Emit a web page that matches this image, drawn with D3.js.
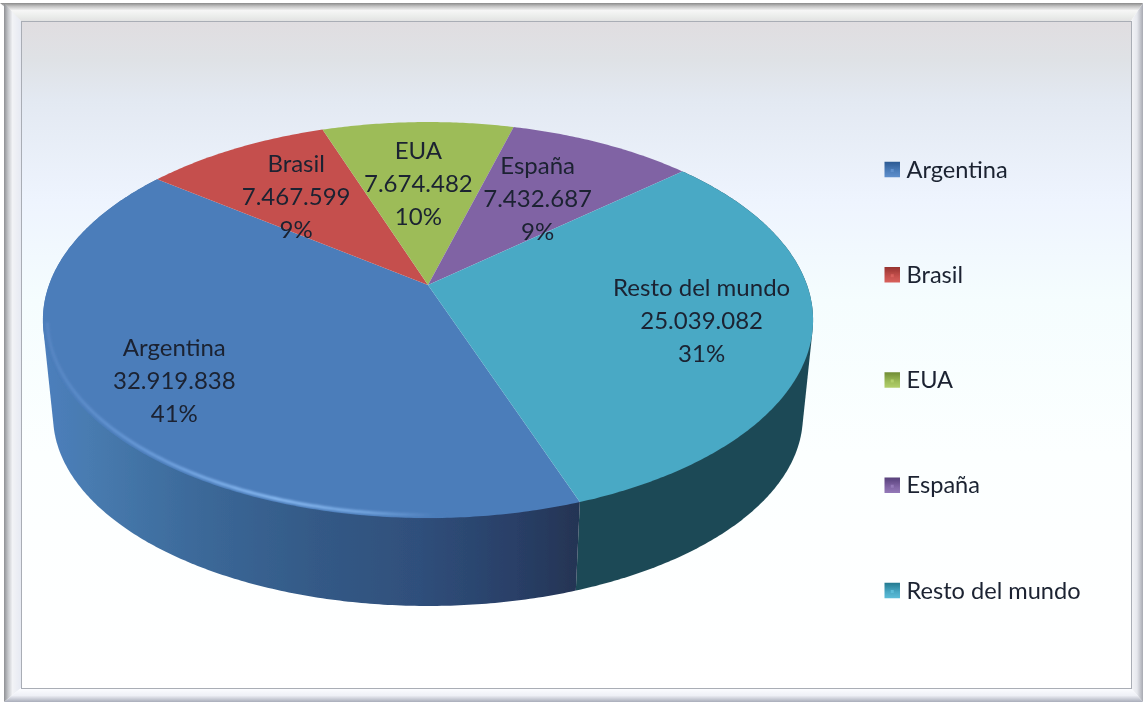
<!DOCTYPE html>
<html>
<head>
<meta charset="utf-8">
<script src="https://cdn.jsdelivr.net/npm/d3@7"></script>
<style>
  html, body { margin: 0; padding: 0; background: #fff; }
  svg { display: block; }
  text { font-family: Lato, "Open Sans", sans-serif; fill: #1a2230; }
</style>
</head>
<body>
<div id="chart"></div>
<script>
var categories = ["Argentina", "Brasil", "EUA", "España", "Resto del mundo"];
var values = [32919838, 7467599, 7674482, 7432687, 25039082];
var valueLabels = ["32.919.838", "7.467.599", "7.674.482", "7.432.687", "25.039.082"];
var percentLabels = ["41%", "9%", "10%", "9%", "31%"];
var colors = ["#4c7dba", "#c5504d", "#9dbc59", "#8064a4", "#4aa9c5"];
var keyDark = ["#2c5a93", "#963330", "#6f8c35", "#57407a", "#22798f"];
var keyLight = ["#5f8fcc", "#d8605c", "#b2cf6c", "#9479b8", "#5dbdd8"];

var width = 1143, height = 702;

var svg = d3.select("#chart").append("svg")
    .attr("width", width)
    .attr("height", height);
var defs = svg.append("defs");

function linearGrad(id, x1, y1, x2, y2, stops) {
  var g = defs.append("linearGradient")
      .attr("id", id)
      .attr("gradientUnits", "userSpaceOnUse")
      .attr("x1", x1).attr("y1", y1).attr("x2", x2).attr("y2", y2);
  stops.forEach(function (s) {
    g.append("stop").attr("offset", s[0]).attr("stop-color", s[1]);
  });
}

linearGrad("panelFill", 0, 21, 0, 688, [
  [0, "#e0dde0"], [0.06, "#dfe2e6"], [0.12, "#e3e9f2"], [0.27, "#eef4fe"],
  [0.42, "#f5fdfe"], [0.65, "#fcffff"], [1, "#ffffff"]]);
linearGrad("frameTop", 0, 3, 0, 21, [
  [0, "#8a8a8a"], [0.18, "#c2c2c2"], [0.42, "#f6f6f6"], [0.7, "#eceeec"], [1, "#e2e2e2"]]);
linearGrad("frameLeft", 4, 0, 21, 0, [
  [0, "#8f9094"], [0.25, "#c6c8cc"], [0.5, "#f2f3f6"], [1, "#e6e9f2"]]);
linearGrad("frameRight", 1132, 0, 1143, 0, [
  [0, "#f2f3f6"], [0.45, "#e6e8ee"], [1, "#a8aab2"]]);
linearGrad("frameBottom", 0, 689, 0, 702, [
  [0, "#fbfcff"], [0.5, "#eef0f6"], [1, "#a9adba"]]);
linearGrad("sideBlue", 43, 0, 580, 0, [
  [0, "#4d7fbd"], [0.1, "#477aae"], [0.3, "#3b6898"], [0.5, "#345a87"],
  [0.7, "#2f4f7b"], [0.88, "#293f67"], [1, "#243453"]]);
linearGrad("rimBlue", 45, 0, 560, 0, [
  [0, "#5585c2"], [0.2, "#6a9cda"], [0.45, "#8abcf4"], [0.62, "#76a8e2"], [0.76, "#4c7dba"], [1, "#4c7dba"]]);

defs.append("filter").attr("id", "soft").append("feGaussianBlur").attr("stdDeviation", 1.2);
defs.append("filter").attr("id", "jpeg").append("feGaussianBlur").attr("stdDeviation", 0.35);

// frame and panel
svg.append("path").attr("d", "M0,3H1143L1131,21H21Z").attr("fill", "url(#frameTop)");
svg.append("path").attr("d", "M4,3L21,21V688L4,702Z").attr("fill", "url(#frameLeft)");
svg.append("path").attr("d", "M1143,3L1131,21V688L1143,702Z").attr("fill", "url(#frameRight)");
svg.append("path").attr("d", "M4,702L21,688H1131L1143,702Z").attr("fill", "url(#frameBottom)");
svg.append("rect")
    .attr("x", 21.5).attr("y", 21.5).attr("width", 1110).attr("height", 667)
    .attr("fill", "url(#panelFill)")
    .attr("stroke", "#a9adb5");

var chart = svg.append("g").attr("filter", "url(#jpeg)");

// tilted disc: perspective projection of a unit circle
var tilt = -0.177;
var topFace = { cx: 428, cy: 285, a: 379, b: 191.8 };
var lowFace = { cx: 428, cy: 382.4, a: 369, b: 184 };

function project(face, angle, r) {
  var u = r * Math.sin(angle), v = -r * Math.cos(angle);
  var w = 1 + tilt * v;
  return [face.cx + face.a * u / w, face.cy + face.b * v / w];
}

function arcPoints(face, a0, a1, r) {
  var n = Math.ceil(Math.abs(a1 - a0) / 0.01);
  return d3.range(n + 1).map(function (i) {
    return project(face, a0 + (a1 - a0) * i / n, r);
  });
}

var line = d3.line();
var startAngle = 160.5 * Math.PI / 180;

var pie = d3.pie().sort(null)
    .startAngle(startAngle)
    .endAngle(startAngle + 2 * Math.PI);
var slices = pie(values);

// side wall, only the two slices that face the viewer
var sideFill = { 0: "url(#sideBlue)", 4: "#1f4a56" };
[4, 0].forEach(function (i) {
  var d = slices[i];
  var upper = arcPoints(topFace, d.startAngle, d.endAngle, 1);
  var lower = arcPoints(lowFace, d.startAngle, d.endAngle, 1);
  chart.append("path")
      .attr("d", line(d3.polygonHull(upper.concat(lower))) + "Z")
      .attr("fill", sideFill[i]);
});

// top face
chart.selectAll(".slice")
  .data(slices)
  .enter().append("path")
    .attr("class", "slice")
    .attr("fill", function (d, i) { return colors[i]; })
    .attr("d", function (d) {
      var pts = [project(topFace, 0, 0)].concat(arcPoints(topFace, d.startAngle, d.endAngle, 1));
      return line(pts) + "Z";
    });

// bevel highlight on the front of the blue slice
var blue = slices[0];
chart.append("path")
    .attr("d", line(arcPoints(topFace, blue.startAngle + 0.3, blue.startAngle + 1.72, 0.989)))
    .attr("fill", "none")
    .attr("stroke", "url(#rimBlue)")
    .attr("stroke-width", 3)
    .attr("filter", "url(#soft)");

// data labels
var labelRadius = [0.765, 0.632, 0.594, 0.59, 0.721];
var labelNudge = [-0.5, -1.2, -0.9, 0.3, -0.6];   // degrees
var lineGap = 33;

var labels = chart.selectAll(".label")
    .data(slices)
    .enter().append("g")
    .attr("class", "label")
    .attr("transform", function (d, i) {
      var mid = (d.startAngle + d.endAngle) / 2 + labelNudge[i] * Math.PI / 180;
      var p = project(topFace, mid, labelRadius[i]);
      return "translate(" + p[0] + "," + p[1] + ")";
    });

labels.selectAll("text")
    .data(function (d, i) { return [categories[i], valueLabels[i], percentLabels[i]]; })
    .enter().append("text")
    .attr("text-anchor", "middle")
    .attr("y", function (d, i) { return (i - 1) * lineGap + 9.5; })
    .style("font-size", "24px")
    .text(function (d) { return d; });

// legend
var legendY = d3.scalePoint().domain(categories).range([169.5, 590.5]);
var keySize = 15.5;

var legend = chart.selectAll(".legend")
    .data(categories)
    .enter().append("g")
    .attr("class", "legend")
    .attr("transform", function (d) { return "translate(884.5," + legendY(d) + ")"; });

legend.each(function (d, i) {
  var gid = "key" + i;
  var g = defs.append("linearGradient").attr("id", gid).attr("x1", 0).attr("y1", 0).attr("x2", 0).attr("y2", 1);
  g.append("stop").attr("offset", 0).attr("stop-color", keyDark[i]);
  g.append("stop").attr("offset", 0.6).attr("stop-color", colors[i]);
  g.append("stop").attr("offset", 1).attr("stop-color", keyLight[i]);
});

legend.append("rect")
    .attr("y", -keySize / 2)
    .attr("width", keySize)
    .attr("height", keySize)
    .attr("fill", function (d, i) { return "url(#key" + i + ")"; });

legend.append("rect")
    .attr("x", keySize / 2 - 1.5)
    .attr("y", -0.5)
    .attr("width", 3)
    .attr("height", 3)
    .attr("fill", function (d, i) { return keyLight[i]; });

legend.append("text")
    .attr("x", 22)
    .attr("y", 8)
    .style("font-size", "23.6px")
    .text(function (d) { return d; });
</script>
</body>
</html>
